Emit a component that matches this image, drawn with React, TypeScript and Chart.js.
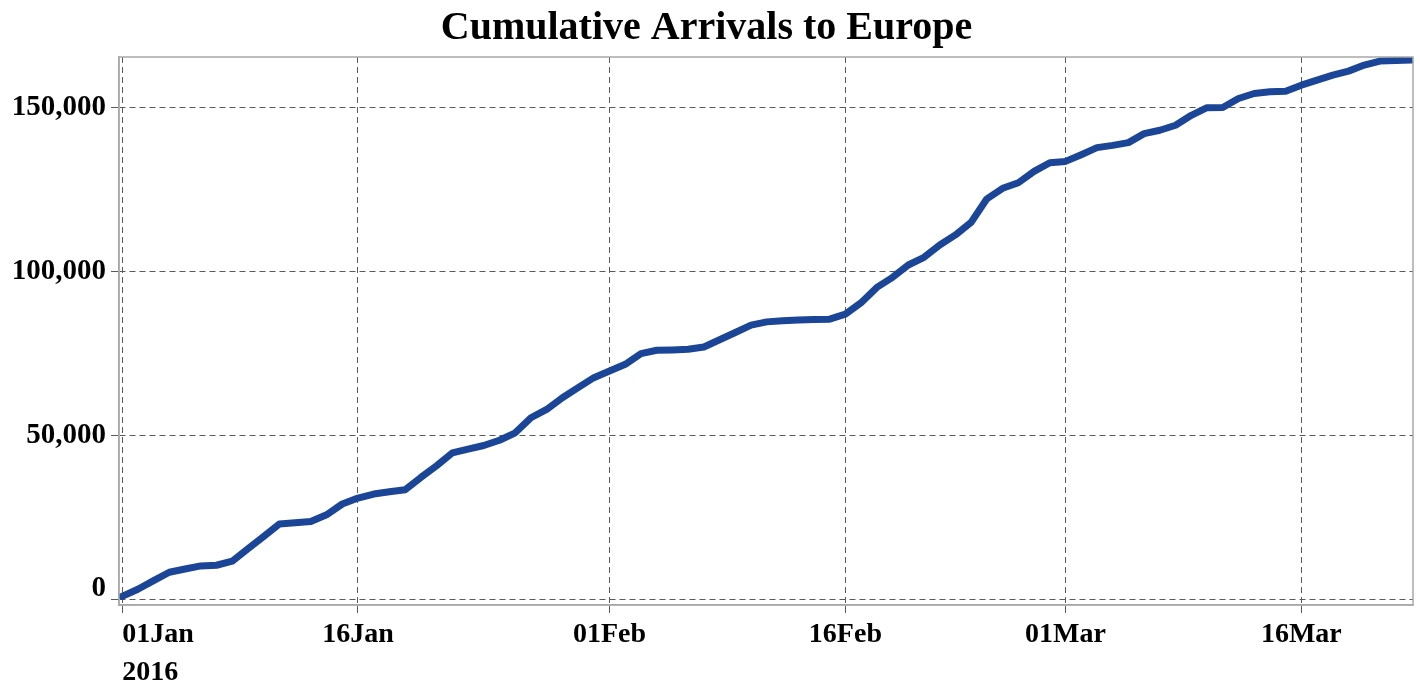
import React, { useEffect, useRef } from "react";
import { Chart, registerables } from "chart.js";

Chart.register(...registerables);

const chartTitle = "Cumulative Arrivals to Europe";

// Daily cumulative arrivals, one value per day starting 01 Jan 2016
const arrivals = [
  800, 2970, 5600, 8170, 9150, 10100, 10300, 11540, 15300, 19100,
  22860, 23250, 23650, 25700, 28980, 30800, 32030, 32700, 33350, 37100,
  40640, 44580, 45750, 46820, 48440, 50700, 55300, 57830, 61400, 64500,
  67530, 69560, 71600, 74870, 75890, 76000, 76200, 76900, 79100, 81300,
  83540, 84550, 84860, 85100, 85250, 85370, 86900, 90400, 95070, 98130,
  101900, 104250, 108020, 111080, 114960, 122090, 125300, 127000, 130450, 133110,
  133510, 135560, 137700, 138400, 139230, 141980, 143000, 144530, 147580, 149900,
  149940, 152690, 154220, 154740, 154930, 156770, 158300, 159820, 161050, 162890,
  164110, 164260, 164410,
];

// x tick positions in days since 01 Jan 2016 and their labels
const xTickDays = [0, 15, 31, 46, 60, 75];
const xTickLabels: (string | string[])[] = [["01Jan", "2016"], "16Jan", "01Feb", "16Feb", "01Mar", "16Mar"];
const yTickValues = [0, 50000, 100000, 150000];

const X_MIN = -0.2;
const X_MAX = 82.1;
const Y_MIN = -1830;
const Y_MAX = 165360;

const FAMILY = '"Liberation Serif", "Times New Roman", serif';
const GRID = "#5a5a5a";
const FRAME = "#a8a8a8";

const framePlugin = {
  id: "frame",
  afterDraw(chart: any) {
    const { ctx, chartArea } = chart;
    ctx.save();
    ctx.strokeStyle = FRAME;
    ctx.lineWidth = 1.5;
    ctx.strokeRect(chartArea.left, chartArea.top, chartArea.right - chartArea.left, chartArea.bottom - chartArea.top);
    ctx.restore();
  },
};

export default function App() {
  const ref = useRef<HTMLCanvasElement | null>(null);

  useEffect(() => {
    if (!ref.current) return;
    const points = arrivals.map((v, i) => ({ x: i, y: v }));
    const chart = new Chart(ref.current, {
      type: "line",
      data: {
        datasets: [
          {
            label: "Cumulative arrivals",
            data: points,
            borderColor: "#1b4597",
            backgroundColor: "#1b4597",
            borderWidth: 7,
            pointRadius: 0,
            tension: 0,
            borderCapStyle: "round",
            borderJoinStyle: "round",
          },
        ],
      },
      options: {
        responsive: false,
        animation: false,
        layout: { padding: { left: 0, right: 7, top: 0, bottom: 0 } },
        plugins: {
          legend: { display: false },
          tooltip: { enabled: false },
          title: {
            display: true,
            text: chartTitle,
            color: "#000",
            font: { family: FAMILY, size: 40, weight: "bold", lineHeight: 1.2 },
            padding: { top: 5, bottom: 4 },
          },
        },
        scales: {
          x: {
            type: "linear",
            min: X_MIN,
            max: X_MAX,
            afterBuildTicks: (s: any) => {
              s.ticks = [...xTickDays, X_MAX].map((v) => ({ value: v }));
            },
            afterFit: (s: any) => {
              s.height = 83;
            },
            ticks: {
              autoSkip: false,
              maxRotation: 0,
              align: "inner",
              padding: 3,
              color: "#000",
              font: { family: FAMILY, size: 28, weight: "bold", lineHeight: 1.36 },
              callback: (_v: any, i: number) => (i < xTickLabels.length ? xTickLabels[i] : ""),
            },
            grid: {
              color: (c: any) => (c.tick && c.tick.value > 80 ? "rgba(0,0,0,0)" : GRID),
              tickColor: (c: any) => (c.tick && c.tick.value > 80 ? "rgba(0,0,0,0)" : GRID),
              tickLength: 8,
              lineWidth: 1,
            },
            border: { display: true, color: FRAME, width: 1.5, dash: [6, 4] },
          },
          y: {
            type: "linear",
            min: Y_MIN,
            max: Y_MAX,
            afterBuildTicks: (s: any) => {
              s.ticks = yTickValues.map((v) => ({ value: v }));
            },
            afterFit: (s: any) => {
              s.width = 119;
            },
            ticks: {
              padding: 5,
              color: "#000",
              font: (c: any) =>
                c.tick && c.tick.value === 0
                  ? { family: FAMILY, size: 29, weight: "bold", lineHeight: 0.72 }
                  : { family: FAMILY, size: 29, weight: "bold", lineHeight: 1.2 },
              callback: (v: any) => (v === 0 ? ["0", ""] : Number(v).toLocaleString("en-US")),
            },
            grid: {
              color: GRID,
              tickColor: GRID,
              tickLength: 8,
              lineWidth: 1,
            },
            border: { display: true, color: FRAME, width: 1.5, dash: [6, 4] },
          },
        },
      },
      plugins: [framePlugin],
    } as any);
    return () => chart.destroy();
  }, []);

  return (
    <div style={{ position: "fixed", left: 0, top: 0, width: 1420, height: 688, background: "#fff" }}>
      <canvas ref={ref} width={1420} height={688} style={{ display: "block" }} />
    </div>
  );
}
